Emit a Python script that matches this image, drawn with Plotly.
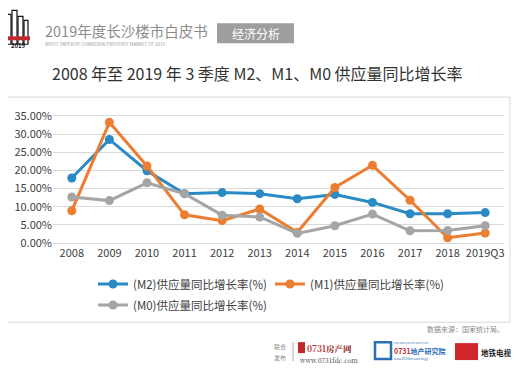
import plotly.graph_objects as go

years = ["2008", "2009", "2010", "2011", "2012", "2013", "2014", "2015", "2016", "2017", "2018", "2019Q3"]
m2 = [17.9, 28.5, 19.9, 13.6, 13.9, 13.6, 12.2, 13.4, 11.2, 8.1, 8.1, 8.4]
m1 = [8.9, 33.2, 21.2, 7.8, 6.2, 9.4, 3.0, 15.3, 21.4, 11.8, 1.5, 2.8]
m0 = [12.7, 11.7, 16.6, 13.6, 7.7, 7.2, 2.7, 4.8, 8.0, 3.4, 3.5, 4.8]
names = ["(M2)供应量同比增长率(%)", "(M1)供应量同比增长率(%)", "(M0)供应量同比增长率(%)"]
colors = ["#2a8ac4", "#ed7d31", "#a5a5a5"]
yticks = [0, 5, 10, 15, 20, 25, 30, 35]

FONT = "Noto Sans CJK SC, Noto Sans, sans-serif"
SERIF = "Noto Serif CJK SC, DejaVu Serif, serif"
OFF = 8  # page body margin
W, H = 523 - OFF, 375 - OFF

fig = go.Figure()
series = [m2, m1, m0]
legends = ["legend", "legend2", "legend3"]
for vals, nm, c, lg in zip(series, names, colors, legends):
    fig.add_trace(go.Scatter(
        x=years, y=vals, name=nm, mode="lines+markers",
        line=dict(color=c, width=3),
        marker=dict(color=c, size=9),
        legend=lg,
    ))

def leg(x, y):
    x -= OFF
    y -= OFF
    return dict(xref="container", yref="container", x=x / W, y=1 - y / H,
                xanchor="left", yanchor="middle", orientation="h",
                bgcolor="rgba(0,0,0,0)", font=dict(family=FONT, size=11.5, color="#404040"),
                itemwidth=30, borderwidth=0)

# target plot-area pixels on screen
PL, PR, PT, PB = 53, 504, 114, 245.5
ml, mr = PL - OFF, (523 - PR)
mt, mb = PT - OFF, (375 - PB)
PW = PR - PL
PH = PB - PT

fig.update_layout(
    width=W, height=H,
    margin=dict(l=ml, r=mr, t=mt, b=mb, autoexpand=False),
    paper_bgcolor="white", plot_bgcolor="white",
    font=dict(family=FONT, color="#595959"),
    showlegend=True,
    legend=leg(93, 284),
    legend2=leg(270, 284),
    legend3=leg(93, 305),
    xaxis=dict(type="category", range=[-0.5, 11.5], showgrid=False, showline=False,
               ticks="", tickfont=dict(family=FONT, size=11, color="#404040")),
    yaxis=dict(range=[-0.5, 35.5], tickvals=yticks,
               ticktext=[f"{v:.2f}%" for v in yticks],
               showgrid=True, gridcolor="#d9d9d9", gridwidth=1, zeroline=False,
               showline=False, ticks="", tickfont=dict(family=FONT, size=11, color="#404040")),
)

def px_rect(x0, y0, x1, y1, **kw):
    return dict(type="rect", xref="paper", yref="paper",
                x0=(x0 - PL) / PW, x1=(x1 - PL) / PW,
                y0=(PB - y1) / PH, y1=(PB - y0) / PH, layer="below", **kw)

def px_line(x0, y0, x1, y1, **kw):
    return dict(type="line", xref="paper", yref="paper",
                x0=(x0 - PL) / PW, x1=(x1 - PL) / PW,
                y0=(PB - y0) / PH, y1=(PB - y1) / PH, **kw)

def txt(x, y, s, size, color, xanchor="left", family=FONT):
    return dict(xref="paper", yref="paper", x=(x - PL) / PW, y=(PB - y) / PH,
                text=s, showarrow=False, xanchor=xanchor, yanchor="middle",
                font=dict(family=family, size=size, color=color), borderpad=0)

shapes = []
annotations = []
shapes.append(px_rect(5, 97, 510, 323, line=dict(color="#d9d9d9", width=1), fillcolor="rgba(0,0,0,0)"))
# header logo (stylised)
for (x0, y0, x1, y1) in [(6, 14, 11, 44), (12, 10, 17, 44), (18, 16, 23, 44), (24, 20, 28, 44)]:
    shapes.append(px_rect(x0, y0, x1, y1, line=dict(color="#111", width=1.2), fillcolor="rgba(0,0,0,0)"))
shapes.append(px_rect(6, 36, 30, 40, line=dict(width=0), fillcolor="#c0282d"))
annotations.append(txt(18, 45, "<b>2019</b>", 6, "#111", xanchor="center"))
# header text
annotations.append(txt(44, 30.5, "2019年度长沙楼市白皮书", 14.5, "#8c8c8c"))
annotations.append(txt(44, 44, "WHITE PAPER OF CHANGSHA PROPERTY MARKET OF 2019", 4.5, "#9a9a9a"))
shapes.append(px_rect(217, 23, 294, 43, line=dict(width=0), fillcolor="#9e9e9e"))
annotations.append(txt(255.5, 33, "经济分析", 12, "white", xanchor="center"))
# title
annotations.append(txt(257, 73, "2008 年至 2019 年 3 季度 M2、M1、M0 供应量同比增长率", 16, "#333333", xanchor="center"))
# source
annotations.append(txt(505, 330, "数据来源：国家统计局。", 7, "#8c8c8c", xanchor="right"))
# footer
annotations.append(txt(280, 347.5, "联合", 6, "#8c8c8c", xanchor="center"))
annotations.append(txt(280, 358, "发布", 6, "#8c8c8c", xanchor="center"))
shapes.append(px_line(293, 343, 293, 362, line=dict(color="#aaaaaa", width=1)))
shapes.append(px_rect(298, 343, 305, 354, line=dict(width=0), fillcolor="#c0282d"))
annotations.append(txt(306, 348.5, "<b><span style='color:#c0282d'>0731</span>房产网</b>", 8.5, "#8b1a1a", family=SERIF))
annotations.append(txt(298, 361, "www.0731fdc.com", 6.5, "#333333", family=SERIF))
shapes.append(px_rect(375, 343, 391, 360, line=dict(color="#2a6fb5", width=2.5), fillcolor="rgba(0,0,0,0)"))
annotations.append(txt(393, 344, "0731 REAL ESTATE INSTITUTE", 2.5, "#2a6fb5"))
annotations.append(txt(393, 352, "<b><span style='color:#d0252a'>0731</span>地产研究院</b>", 7, "#2a6fb5"))
annotations.append(txt(393, 360, "www.0731fdc.com/dcyjy", 3, "#2a6fb5"))
shapes.append(px_rect(455, 344, 478, 361, line=dict(width=0), fillcolor="#d0252a"))
annotations.append(txt(480, 353, "<b>地铁电视</b>", 7.5, "#222222"))

fig.update_layout(shapes=shapes, annotations=annotations)

fig.write_html("out.html")
